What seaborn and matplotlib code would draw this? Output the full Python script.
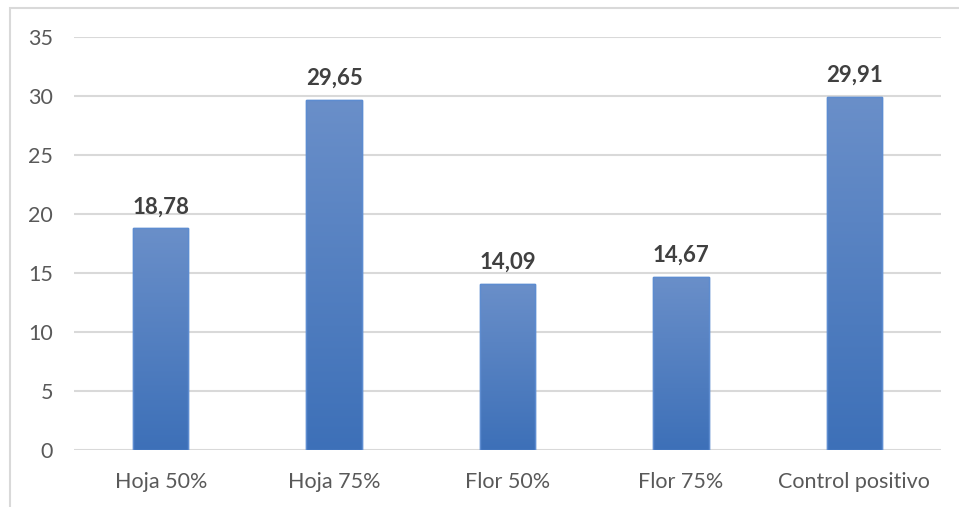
import numpy as np
import pandas as pd
import matplotlib
matplotlib.use("Agg")
import matplotlib.pyplot as plt
import seaborn as sns
from matplotlib.patches import Rectangle

categories = ["Hoja 50%", "Hoja 75%", "Flor 50%", "Flor 75%", "Control positivo"]
values = [18.78, 29.65, 14.09, 14.67, 29.91]
value_labels = ["18,78", "29,65", "14,09", "14,67", "29,91"]
yticks = [0, 5, 10, 15, 20, 25, 30, 35]

sns.set_theme(style="white")
plt.rcParams['font.family'] = ['Lato', 'DejaVu Sans']

fig = plt.figure(figsize=(9.59, 5.07), dpi=100)
ax = fig.add_axes([74/959, 57/507, (941-74)/959, (450-37)/507])

df = pd.DataFrame({"cat": categories, "val": values})
sns.barplot(data=df, x="cat", y="val", ax=ax, width=0.32, color="#4a7cc0",
            edgecolor="#5b8bd0", linewidth=1.0, zorder=3)

# gradient fill inside each bar
grad = np.linspace(0, 1, 256).reshape(-1, 1)
cmap = matplotlib.colors.LinearSegmentedColormap.from_list("g", ["#6a8fc9", "#3d70b8"])
for p in ax.patches:
    x0, y0 = p.get_x(), p.get_y()
    w, h = p.get_width(), p.get_height()
    im = ax.imshow(grad, cmap=cmap, aspect="auto", extent=[x0, x0 + w, y0, y0 + h],
                   origin="upper", zorder=3.5)
    im.set_clip_path(p)
    ax.add_patch(Rectangle((x0, y0), w, h, fill=False, edgecolor="#5d8cd0",
                           linewidth=1.0, zorder=4))

for i, (v, lab) in enumerate(zip(values, value_labels)):
    ax.annotate(lab, (i, v), xytext=(0, 8), textcoords="offset points",
                ha="center", va="bottom", fontsize=16, fontweight="bold",
                color="#404040", zorder=5)

ax.set_xlim(-0.5, len(categories) - 0.5)
ax.set_ylim(0, 35)
ax.set_yticks(yticks)
ax.set_yticklabels([str(t) for t in yticks])
ax.yaxis.grid(True, color="#d9d9d9", linewidth=1.5, zorder=0)
ax.set_axisbelow(True)
for s in ax.spines.values():
    s.set_visible(False)
ax.tick_params(axis="y", length=0, pad=15, labelsize=15.5, labelcolor="#595959")
ax.tick_params(axis="x", length=0, pad=16, labelsize=15.5, labelcolor="#595959")
ax.set_xlabel("")
ax.set_ylabel("")

# chart outer border
fig.patches.append(Rectangle((10/959, -0.1), 1.1, (507-8)/507 + 0.1, transform=fig.transFigure,
                             fill=False, edgecolor="#d9d9d9", linewidth=1.5))

fig.savefig("out.png", dpi=100)
